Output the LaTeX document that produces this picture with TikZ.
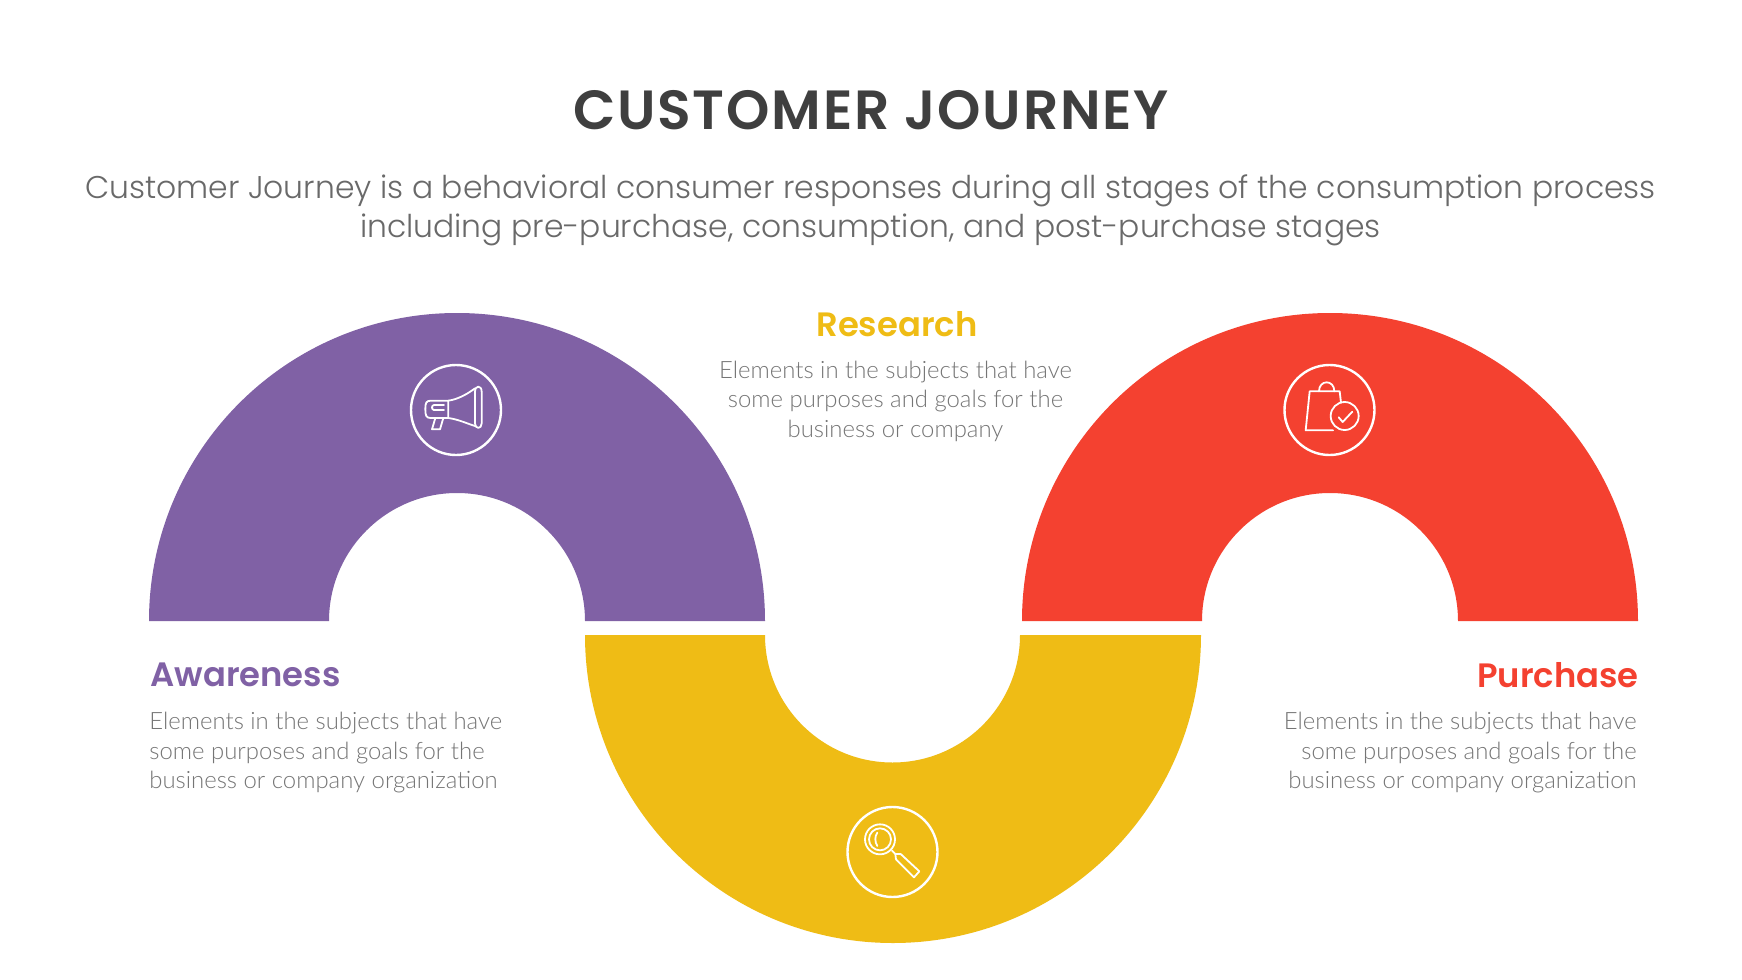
\documentclass[tikz,border=0pt]{standalone}
\usepackage{fontspec}
\setmainfont{Poppins}
\newfontfamily\popsemi{Poppins SemiBold}
\newfontfamily\poptitle[LetterSpace=3.2]{Poppins SemiBold}
\newfontfamily\poplight{Poppins Light}
\newfontfamily\latolight{Lato Light}
\definecolor{cpurple}{HTML}{8061A5}
\definecolor{cyellow}{HTML}{EFBC15}
\definecolor{cred}{HTML}{F44130}
\definecolor{ctitle}{HTML}{3F3F3F}
\definecolor{csub}{HTML}{696969}
\definecolor{cbody}{HTML}{757575}
\tikzset{
  titletext/.style={inner sep=0pt,text=ctitle,font=\poptitle\fontsize{27.6}{30}\selectfont},
  subtext/.style={inner sep=0pt,align=center,text=csub,font=\poplight\fontsize{15.7}{19.2}\selectfont},
  headtext/.style={inner sep=0pt,font=\popsemi\fontsize{16.9}{20}\selectfont},
  bodytext/.style={inner sep=0pt,text=cbody,font=\latolight\fontsize{11.95}{14.75}\selectfont},
  iconring/.style={circle,draw=white,line width=1.2pt,minimum size=45pt,inner sep=0pt},
  iconline/.style={draw=white,line width=0.9pt,line join=round,line cap=round},
}
\begin{document}
\begin{tikzpicture}[x=0.5pt,y=-0.5pt]
\useasboundingbox (0,0) rectangle (1742,980);
\fill[white] (0,0) rectangle (1742,980);
% arcs
\fill[cpurple] (149,621) arc[start angle=180,end angle=0,radius=154pt] -- (585,621) arc[start angle=0,end angle=180,radius=64pt] -- cycle;
\fill[cred] (1022,621) arc[start angle=180,end angle=0,radius=154pt] -- (1458,621) arc[start angle=0,end angle=180,radius=64pt] -- cycle;
\fill[cyellow] (585,635) arc[start angle=180,end angle=360,radius=154pt] -- (1020,635) arc[start angle=360,end angle=180,radius=63.75pt] -- cycle;
% texts
\node[titletext] (title) at (871,110) {CUSTOMER JOURNEY};
\node[subtext] (subtitle) at (870.5,210.5) {Customer Journey is a behavioral consumer responses during all stages of the consumption process\hspace{4.4pt}\\including pre-purchase, consumption, and post-purchase stages};
\node[headtext,text=cyellow] (researchhead) at (897,324) {Research};
\node[bodytext,align=center] (researchbody) at (895.5,401) {Elements in the subjects that have\hspace{2.8pt}\\some purposes and goals for the\hspace{4.4pt}\\business or company};
\node[headtext,text=cpurple,anchor=west] (awarehead) at (150,675) {Awareness};
\node[bodytext,align=left,anchor=west] (awarebody) at (149,753) {Elements in the subjects that have\\some purposes and goals for the\\business or company organization};
\node[headtext,text=cred,anchor=east] (purchhead) at (1639,675) {Purchase};
\node[bodytext,align=right,anchor=east] (purchbody) at (1637,753) {Elements in the subjects that have\hspace{5.2pt}\\some purposes and goals for the\\business or company organization};
% rings
\node[iconring] (ringa) at (456,410) {};
\node[iconring] (ringb) at (1329.5,410) {};
\node[iconring] (ringc) at (892.5,852) {};
% megaphone
\begin{scope}[shift={(390,350)},x=0.16667pt,y=-0.16667pt]
\draw[iconline] (175,152) -- (122,152) .. controls (108,152) and (106,160) .. (106,177) .. controls (106,196) and (108,204) .. (122,204) -- (175,204) -- cycle;
\draw[iconline] (175,152) .. controls (205,148) and (235,130) .. (255,115);
\draw[iconline] (175,204) .. controls (205,208) and (235,222) .. (255,228);
\draw[iconline] (255,125) .. controls (255,105) and (275,105) .. (275,125) -- (275,220) .. controls (275,238) and (255,238) .. (255,220) -- cycle;
\draw[iconline] (162,165) -- (132,165) .. controls (124,165) and (124,180) .. (132,180) -- (162,180);
\draw[iconline] (136,204) -- (126,238) -- (150,238) -- (160,204);
\end{scope}
% bag
\begin{scope}[shift={(1265,350)},x=0.16667pt,y=-0.16667pt]
\draw[iconline] (204,241) -- (122,241) -- (134,124) -- (224,124) -- (228,158);
\draw[iconline] (162,124) .. controls (162,88) and (208,88) .. (208,124);
\draw[iconline] (239,198) circle[radius=42];
\draw[iconline] (221,202) -- (233,216) -- (262,185);
\end{scope}
% magnifier
\begin{scope}[shift={(830,792)},x=0.16667pt,y=-0.16667pt]
\draw[iconline] (150,142) circle[radius=45];
\draw[iconline] (150,142) circle[radius=33];
\draw[iconline] (142,122) .. controls (134,132) and (134,150) .. (142,162);
\draw[iconline] (186,176) -- (196,186);
\draw[iconline] (196,186) -- (212,186) -- (268,238) -- (252,256) -- (198,202) -- cycle;
\end{scope}
\end{tikzpicture}
\end{document}
